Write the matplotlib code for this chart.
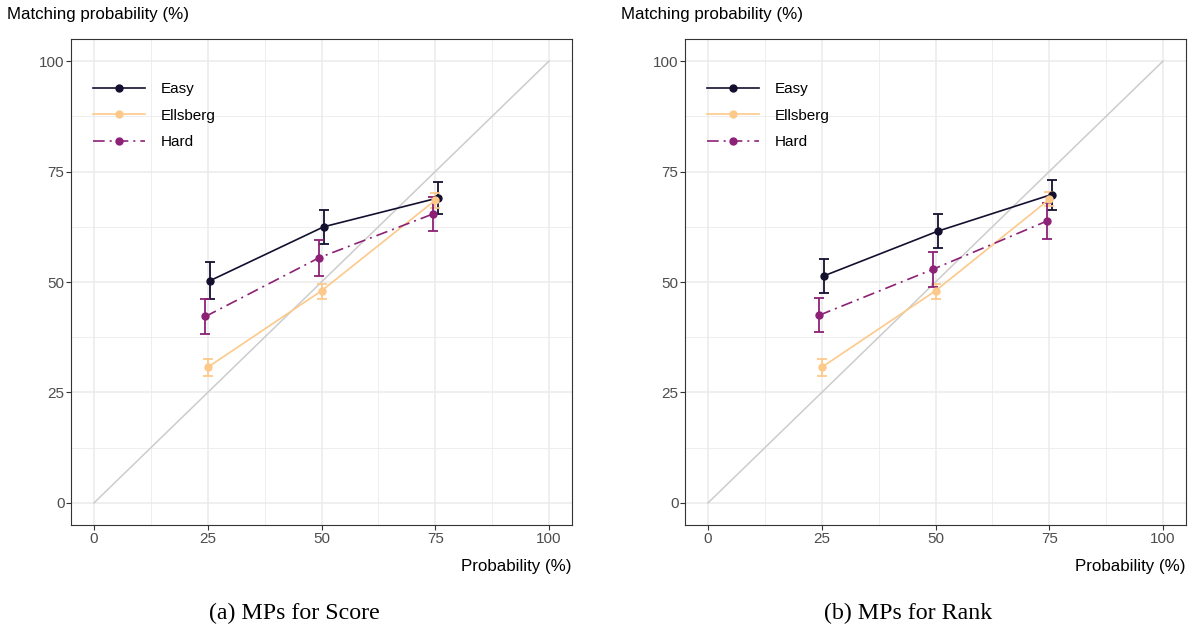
import numpy as np
import matplotlib.pyplot as plt
from matplotlib.patches import Rectangle

# probabilities (x) and matching probabilities (y), with error bar bounds
prob = np.array([25, 50, 75])
series = ['Easy', 'Ellsberg', 'Hard']
dodge = {'Easy': 0.5, 'Ellsberg': 0.0, 'Hard': -0.5}

score_mean = {'Easy': [50.3, 62.5, 69.0],
              'Ellsberg': [30.7, 48.0, 68.5],
              'Hard': [42.2, 55.5, 65.4]}
score_lo = {'Easy': [46.2, 58.7, 65.4],
            'Ellsberg': [28.8, 46.1, 66.7],
            'Hard': [38.2, 51.4, 61.6]}
score_hi = {'Easy': [54.5, 66.3, 72.7],
            'Ellsberg': [32.6, 49.5, 70.2],
            'Hard': [46.2, 59.6, 69.2]}

rank_mean = {'Easy': [51.4, 61.5, 69.8],
             'Ellsberg': [30.7, 48.0, 68.7],
             'Hard': [42.5, 52.9, 63.8]}
rank_lo = {'Easy': [47.4, 57.7, 66.4],
           'Ellsberg': [28.8, 46.1, 67.1],
           'Hard': [38.6, 48.9, 59.7]}
rank_hi = {'Easy': [55.2, 65.4, 73.0],
           'Ellsberg': [32.6, 49.5, 70.3],
           'Hard': [46.4, 56.7, 67.9]}

ticks = [0, 25, 50, 75, 100]
captions = ['(a) MPs for Score', '(b) MPs for Rank']

colors = {'Easy': '#13102f', 'Ellsberg': '#fdc98a', 'Hard': '#8c2176'}
styles = {'Easy': '-', 'Ellsberg': '-', 'Hard': (0, (7, 3, 1.2, 3))}

plt.rcParams['font.family'] = ['Liberation Sans', 'DejaVu Sans']

fig = plt.figure(figsize=(11.96, 6.3), dpi=100)
W, H = 1196, 630


def panel(left_px, mean, lo, hi, caption):
    ax = fig.add_axes([left_px / W, (630 - 525) / H, 500.5 / W, 486 / H])
    ax.set_xlim(-5, 105)
    ax.set_ylim(-5, 105)
    ax.set_xticks(ticks)
    ax.set_yticks(ticks)
    ax.set_xticks([12.5, 37.5, 62.5, 87.5], minor=True)
    ax.set_yticks([12.5, 37.5, 62.5, 87.5], minor=True)
    ax.tick_params(which='minor', length=0)
    ax.tick_params(which='major', length=3.6, width=0.8, color='#333333',
                   labelsize=11, labelcolor='#4d4d4d', pad=1.2)
    ax.grid(True, which='major', color='#ebebeb', lw=1.1, zorder=0)
    ax.grid(True, which='minor', color='#ebebeb', lw=0.6, zorder=0)
    ax.set_axisbelow(True)
    for s in ax.spines.values():
        s.set_color('#333333')
        s.set_linewidth(0.8)

    ax.plot([0, 100], [0, 100], color='#cccccc', lw=1.1, zorder=1)

    for name in series:
        x = prob + dodge[name]
        m = np.array(mean[name])
        yerr = [m - np.array(lo[name]), np.array(hi[name]) - m]
        ax.errorbar(x, m, yerr=yerr, fmt='none', ecolor=colors[name],
                    elinewidth=1.3, capsize=3.5, capthick=1.3, zorder=3)
        ax.plot(x, m, color=colors[name], ls=styles[name], lw=1.2,
                marker='o', ms=5, label=name, zorder=4)

    # white legend background box, as in the ggplot legend inside the panel
    ax.add_patch(Rectangle((0, 0.745), 0.305, 0.26, transform=ax.transAxes,
                           facecolor='white', edgecolor='none', zorder=0.5))
    ax.legend(loc='upper left', bbox_to_anchor=(0.044, 0.911),
              borderaxespad=0, borderpad=0, frameon=False,
              fontsize=11, handlelength=3.4, handletextpad=1.0,
              labelspacing=0.82)

    ax.text(1.0, -0.085, 'Probability (%)', transform=ax.transAxes,
            ha='right', va='center', fontsize=12.2, color='black')
    ax.text(-0.128, 1.05, 'Matching probability (%)', transform=ax.transAxes,
            ha='left', va='center', fontsize=12.2, color='black')
    fig.text((left_px + 223) / W, 1 - 613 / H, caption, ha='center',
             va='center', fontsize=17.2, family='Liberation Serif')
    return ax


panel(71.25, score_mean, score_lo, score_hi, captions[0])
panel(685.25, rank_mean, rank_lo, rank_hi, captions[1])

fig.savefig('out.png', dpi=100)
